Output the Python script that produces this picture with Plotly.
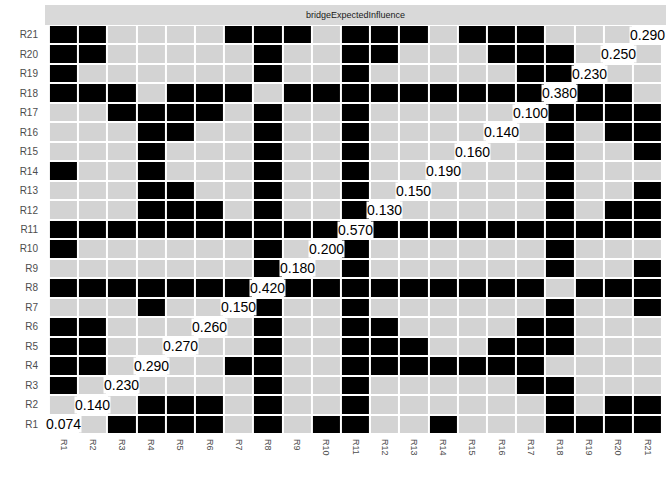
import plotly.graph_objects as go

nodes = [f"R{i}" for i in range(1, 22)]

# Significance pattern per row (R1..R21), columns R1..R21
# '1' = significant (black), '0' = not significant (grey), 'D' = diagonal
sig_rows = [
    "D01111010110010001111",  # R1
    "0D0111010010000001011",  # R2
    "10D000010010000011000",  # R3
    "110D00110011111110000",  # R4
    "1100D0010011100111000",  # R5
    "11000D010011000011000",  # R6
    "000100D10010000001001",  # R7
    "1111111D1111111110111",  # R8
    "00000001D010000001001",  # R9
    "100000010D10000001000",  # R10
    "1111111111D1111111111",  # R11
    "00011101001D000001011",  # R12
    "000110010010D00001001",  # R13
    "1001000100100D0001000",  # R14
    "00010001001000D001001",  # R15
    "000110010010000D01011",  # R16
    "0011110100100000D1111",  # R17
    "11101110111111111D110",  # R18
    "100000010010000011D00",  # R19
    "1100000100110001110D0",  # R20
    "11000011101110111000D",  # R21
]

diag_values = [0.074, 0.140, 0.230, 0.290, 0.270, 0.260, 0.150, 0.420, 0.180, 0.200,
               0.570, 0.130, 0.150, 0.190, 0.160, 0.140, 0.100, 0.380, 0.230, 0.250, 0.290]

strip_title = "bridgeExpectedInfluence"

code = {"0": 0, "1": 1, "D": 2}
z = [[code[c] for c in row] for row in sig_rows]

fig = go.Figure()
fig.add_trace(go.Heatmap(
    x=nodes, y=nodes, z=z,
    zmin=0, zmax=2,
    colorscale=[[0, "#D3D3D3"], [0.25, "#D3D3D3"], [0.25, "#000000"],
                [0.75, "#000000"], [0.75, "#FFFFFF"], [1, "#FFFFFF"]],
    showscale=False, xgap=2, ygap=2, hoverinfo="skip",
))

for n, v in zip(nodes, diag_values):
    fig.add_annotation(
        x=n, y=n, text=f"{v:.3f}", showarrow=False,
        font=dict(family="Liberation Sans, Arial", size=14, color="#000000"),
        bgcolor="#FFFFFF", borderpad=0, xanchor="center", yanchor="middle",
    )

strip_h = 20 / 409
fig.add_shape(type="rect", xref="paper", yref="paper", x0=0, x1=1.0,
              y0=1, y1=1 + strip_h, fillcolor="#D9D9D9", line=dict(width=0), layer="below")
fig.add_annotation(xref="paper", yref="paper", x=0.5, y=1 + strip_h / 2,
                   text=strip_title, showarrow=False,
                   font=dict(family="Liberation Sans, Arial", size=9, color="#1A1A1A"),
                   xanchor="center", yanchor="middle")

fig.update_layout(
    width=672, height=480,
    margin=dict(l=45, r=6, t=25, b=46, autoexpand=False),
    paper_bgcolor="#FFFFFF", plot_bgcolor="#FFFFFF",
    font=dict(family="Liberation Sans, Arial"),
)
fig.update_xaxes(type="category", categoryorder="array", categoryarray=nodes,
                 tickangle=90, tickfont=dict(size=9, color="#4D4D4D"),
                 showgrid=False, zeroline=False, showline=False, ticks="",
                 ticklabelstandoff=4, automargin=False)
fig.update_yaxes(type="category", categoryorder="array", categoryarray=nodes,
                 tickfont=dict(size=10, color="#4D4D4D"),
                 showgrid=False, zeroline=False, showline=False, ticks="",
                 ticklabelstandoff=6, automargin=False)

fig.write_html("out.html",
               config={"displayModeBar": False},
               post_script=["document.body.style.margin='0';document.body.style.padding='0';"])
